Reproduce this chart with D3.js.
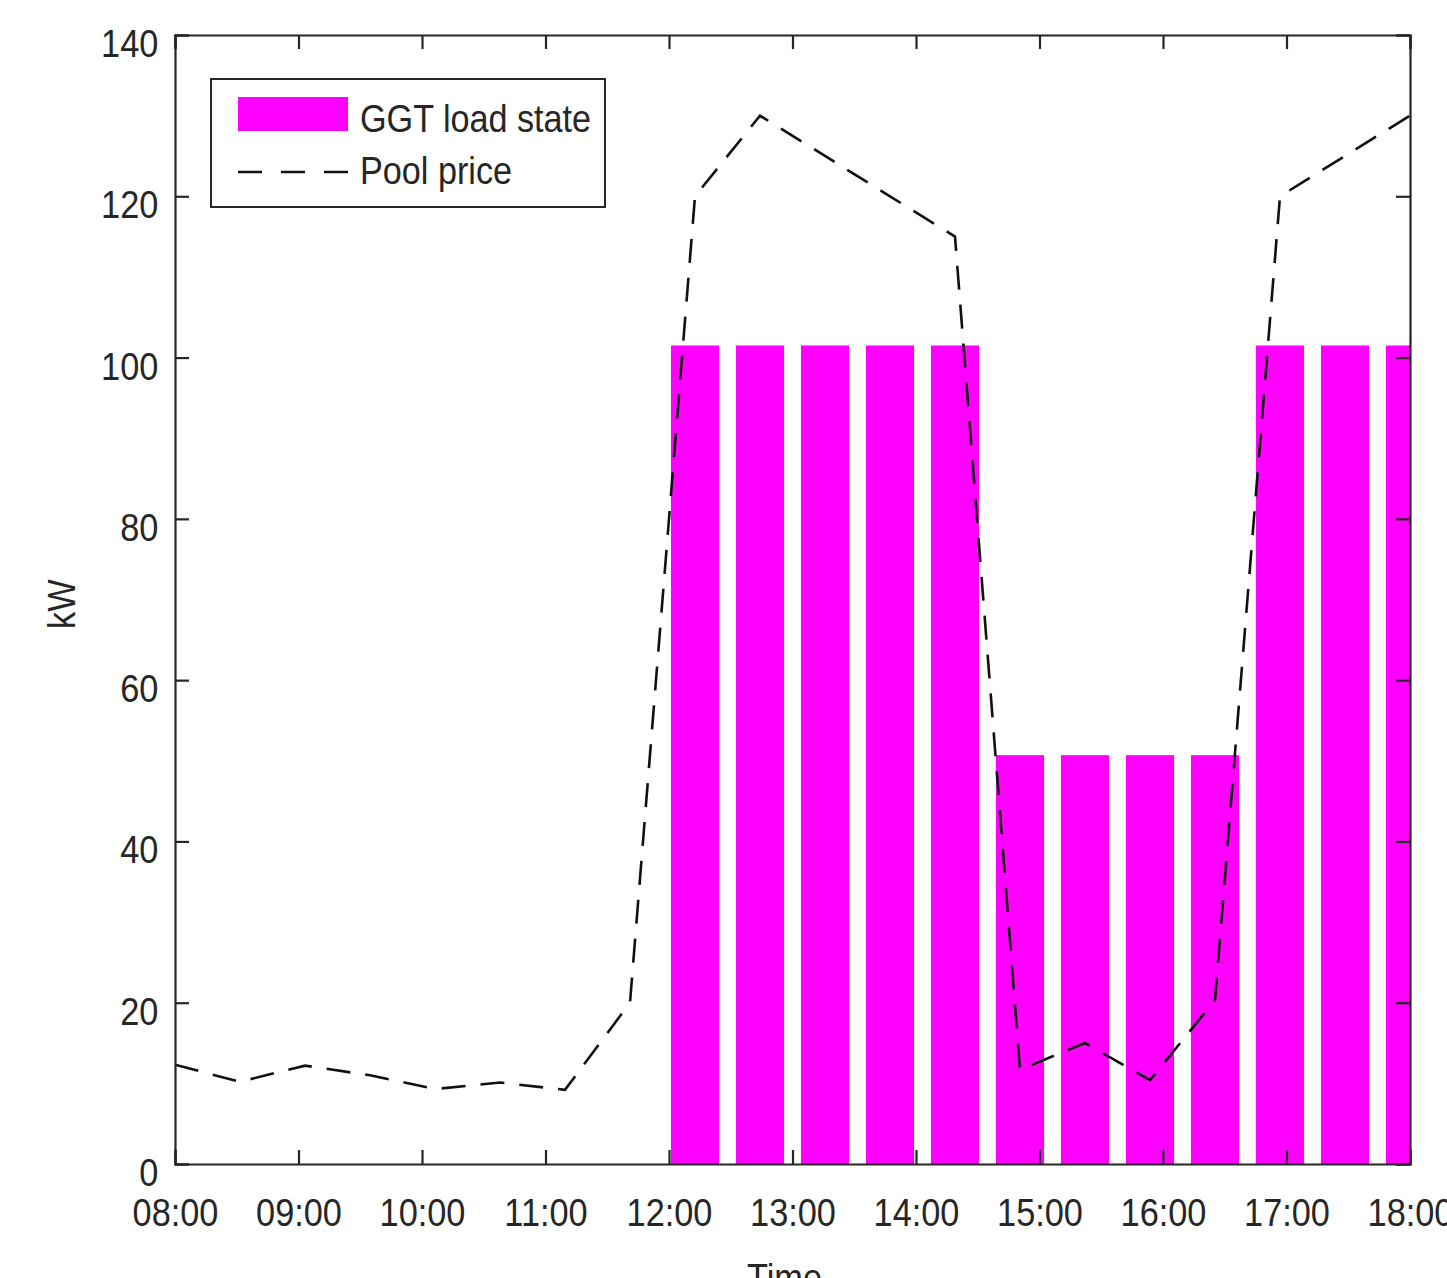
<!DOCTYPE html>
<html>
<head>
<meta charset="utf-8">
<script src="https://cdn.jsdelivr.net/npm/d3@7"></script>
<style>
  body { margin: 0; background: #fff; }
  text { font-family: "Liberation Sans", Arial, sans-serif; fill: #262626; }
</style>
</head>
<body>
<div id="chart"></div>
<script>
// x axis tick labels (hours of the day)
var tickHours = [8, 9, 10, 11, 12, 13, 14, 15, 16, 17, 18];
var tickLabels = ["08:00", "09:00", "10:00", "11:00", "12:00", "13:00",
                  "14:00", "15:00", "16:00", "17:00", "18:00"];
var yTicks = [0, 20, 40, 60, 80, 100, 120, 140];

// 20 samples, evenly spread from 08:00 to 18:00
var loadState = [0, 0, 0, 0, 0, 0, 0, 0,
                 101.5, 101.5, 101.5, 101.5, 101.5,
                 50.7, 50.7, 50.7, 50.7,
                 101.5, 101.5, 101.5];
var poolPrice = [12.3, 10.2, 12.2, 11, 9.3, 10.1, 9.2, 20,
                 120, 130, 125, 120, 115,
                 11.7, 15, 10.4, 20.3,
                 120, 125, 130];
var seriesNames = ["GGT load state", "Pool price"];

var W = 1447, H = 1278;
var margin = {top: 35, right: 37, bottom: 114, left: 175},
    width = W - margin.left - margin.right,
    height = H - margin.top - margin.bottom;
var squeeze = "scale(0.88,1)";   // text in the picture is a bit narrow
var ink = "#262626";

var svg = d3.select("#chart")
  .append("svg")
    .attr("width", W)
    .attr("height", H)
  .append("g")
    .attr("transform", "translate(" + margin.left + "," + margin.top + ")");

var n = poolPrice.length;
var hourOf = function(i) { return tickHours[0] + i * (tickHours[tickHours.length - 1] - tickHours[0]) / (n - 1); };

var x = d3.scaleLinear()
  .domain([tickHours[0], tickHours[tickHours.length - 1]])
  .range([0, width]);
var y = d3.scaleLinear()
  .domain([0, 140])
  .range([height, 0]);

var step = x(hourOf(1)) - x(hourOf(0));
var barW = step * 0.74;

svg.append("clipPath").attr("id", "clip")
  .append("rect").attr("width", width).attr("height", height);

// bars
svg.append("g").attr("clip-path", "url(#clip)")
  .selectAll("rect")
  .data(loadState)
  .enter()
  .append("rect")
    .attr("x", function(d, i) { return x(hourOf(i)) - barW / 2; })
    .attr("y", function(d) { return y(d); })
    .attr("width", barW)
    .attr("height", function(d) { return height - y(d); })
    .style("fill", "#ff00ff");

// pool price line
var line = d3.line()
  .x(function(d, i) { return x(hourOf(i)); })
  .y(function(d) { return y(d); });
svg.append("path")
  .datum(poolPrice)
  .attr("d", line)
  .style("fill", "none")
  .style("stroke", "#111")
  .style("stroke-width", 2.6)
  .style("stroke-dasharray", "24,15");

// axes, ticks pointing inward on all four sides
var tickLen = 14;
var xb = svg.append("g")
  .attr("transform", "translate(0," + height + ")")
  .call(d3.axisBottom(x).tickValues(tickHours).tickSize(-tickLen)
        .tickFormat(function(d, i) { return tickLabels[i]; }));
xb.selectAll("text")
  .attr("y", 62).attr("dy", null)
  .attr("transform", squeeze)
  .style("font-size", "39px");

var yl = svg.append("g")
  .call(d3.axisLeft(y).tickValues(yTicks).tickSize(-tickLen));
yl.selectAll("text")
  .attr("x", -19).attr("dy", "0.55em")
  .attr("transform", squeeze)
  .style("font-size", "39px");

svg.append("g")
  .call(d3.axisTop(x).tickValues(tickHours).tickSize(-tickLen).tickFormat(""));
svg.append("g")
  .attr("transform", "translate(" + width + ",0)")
  .call(d3.axisRight(y).tickValues(yTicks).tickSize(-tickLen).tickFormat(""));

svg.selectAll(".domain").style("stroke", ink).style("stroke-width", 2.2);
svg.selectAll(".tick line").style("stroke", ink).style("stroke-width", 2.2);
svg.selectAll(".tick text").style("font-family", "Liberation Sans, Arial, sans-serif").style("fill", ink);

// axis titles
svg.append("g")
  .attr("transform", "translate(" + (width / 2 - 8) + "," + (height + 127) + ")")
  .append("text")
    .attr("text-anchor", "middle")
    .attr("transform", squeeze)
    .style("font-size", "39px")
    .text("Time");
svg.append("g")
  .attr("transform", "translate(" + (-100) + "," + (y(60) - 76) + ") rotate(-90)")
  .append("text")
    .attr("text-anchor", "middle")
    .attr("transform", squeeze)
    .style("font-size", "39px")
    .text("kW");

// legend
var lg = svg.append("g").attr("transform", "translate(36,44)");
lg.append("rect")
  .attr("width", 394).attr("height", 128)
  .style("fill", "#fff").style("stroke", ink).style("stroke-width", 2);
lg.append("rect")
  .attr("x", 27).attr("y", 18).attr("width", 110).attr("height", 34)
  .style("fill", "#ff00ff");
lg.append("line")
  .attr("x1", 27).attr("x2", 137).attr("y1", 93).attr("y2", 93)
  .style("stroke", "#111").style("stroke-width", 2.6)
  .style("stroke-dasharray", "24,19");
lg.selectAll("g.item")
  .data(seriesNames)
  .enter()
  .append("g")
    .attr("transform", function(d, i) { return "translate(149," + (53 + i * 52) + ")"; })
  .append("text")
    .attr("transform", "scale(0.9,1)")
    .style("font-size", "38px")
    .text(function(d) { return d; });
</script>
</body>
</html>
